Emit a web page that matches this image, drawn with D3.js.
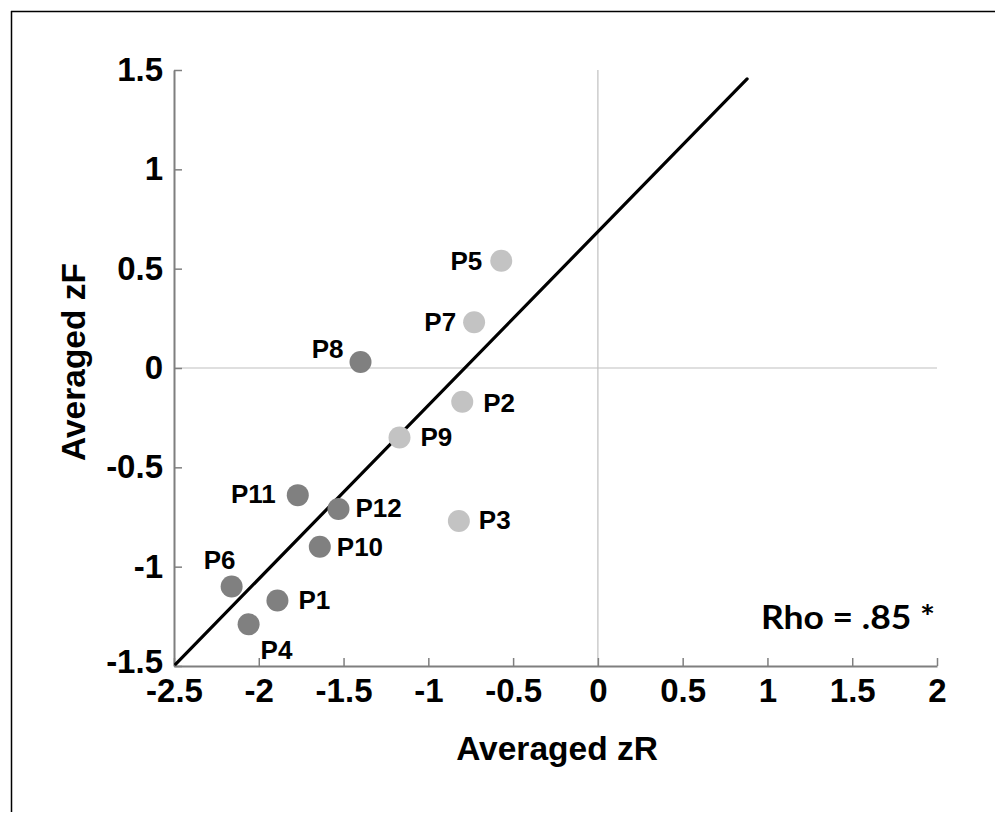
<!DOCTYPE html>
<html>
<head>
<meta charset="utf-8">
<script src="https://cdn.jsdelivr.net/npm/d3@7"></script>
<style>
  body { margin: 0; background: #fff; }
  svg text { font-family: "Liberation Sans", Arial, sans-serif; font-weight: bold; fill: #000; }
</style>
</head>
<body>
<svg id="chart" width="995" height="814"></svg>
<script>
/*
Data
*/
var labels = ["P1", "P2", "P3", "P4", "P5", "P6", "P7", "P8", "P9", "P10", "P11", "P12"];
var zR = [-1.89, -0.80, -0.82, -2.06, -0.57, -2.16, -0.73, -1.40, -1.17, -1.64, -1.77, -1.53];
var zF = [-1.17, -0.17, -0.77, -1.29, 0.54, -1.10, 0.23, 0.03, -0.35, -0.90, -0.64, -0.71];
var group = ["dark", "light", "light", "dark", "light", "dark", "light", "dark", "light", "dark", "dark", "dark"];
var xTicks = [-2.5, -2, -1.5, -1, -0.5, 0, 0.5, 1, 1.5, 2];
var yTicks = [-1.5, -1, -0.5, 0, 0.5, 1, 1.5];
var fitX = [-2.49, 0.88];
var fitY = [-1.49, 1.455];

/*
Layout helpers
*/
var colors = { dark: "#808080", light: "#c3c3c3" };
// where each label sits relative to its dot: [dx, dy, anchor]
var labelPos = {
  P1: [21, 9, "start"], P2: [21, 10, "start"], P3: [20, 8, "start"],
  P4: [12, 35, "start"], P5: [-19, 9, "end"], P6: [-12, -18, "middle"],
  P7: [-18, 9, "end"], P8: [-17, -4, "end"], P9: [21, 8, "start"],
  P10: [17, 9, "start"], P11: [-22, 8, "end"], P12: [17, 8, "start"]
};

var svg = d3.select("#chart");

// frame lines (top and left only)
svg.append("line").attr("x1", 11).attr("y1", 11.5).attr("x2", 995).attr("y2", 11.5)
   .style("stroke", "#000").style("stroke-width", 1.5);
svg.append("line").attr("x1", 11.5).attr("y1", 11).attr("x2", 11.5).attr("y2", 812)
   .style("stroke", "#000").style("stroke-width", 1.5);

var x = d3.scaleLinear().domain([-2.5, 2]).range([174, 937]);
var y = d3.scaleLinear().domain([-1.5, 1.5]).range([666, 70]);

// zero reference lines
svg.append("line").attr("x1", x(0)).attr("x2", x(0)).attr("y1", y(-1.5)).attr("y2", y(1.5))
   .style("stroke", "#c0c0c0").style("stroke-width", 1.2);
svg.append("line").attr("x1", x(-2.5)).attr("x2", x(2)).attr("y1", y(0)).attr("y2", y(0))
   .style("stroke", "#c0c0c0").style("stroke-width", 1.2);

var xAxis = svg.append("g")
  .attr("transform", "translate(0," + y(-1.5) + ")")
  .call(d3.axisBottom(x).tickValues(xTicks).tickFormat(function(d){ return String(d); })
          .tickSizeInner(-8).tickSizeOuter(0).tickPadding(13));

var yAxis = svg.append("g")
  .attr("transform", "translate(" + x(-2.5) + ",0)")
  .call(d3.axisLeft(y).tickValues(yTicks).tickFormat(function(d){ return String(d); })
          .tickSizeInner(-8).tickSizeOuter(0).tickPadding(11));

[xAxis, yAxis].forEach(function(a){
  a.select(".domain").style("stroke", "#7f7f7f").style("stroke-width", 2);
  a.selectAll(".tick line").style("stroke", "#7f7f7f").style("stroke-width", 1.5);
  a.selectAll(".tick text").style("font-size", "33px").style("font-family", "Liberation Sans, Arial, sans-serif")
   .style("font-weight", "bold").style("fill", "#000");
});
// bottom y label sits a little higher than its tick in the original
yAxis.selectAll(".tick text").filter(function(d){ return d === -1.5; }).attr("y", -4);

// regression line
svg.append("line")
   .attr("x1", x(fitX[0])).attr("y1", y(fitY[0]))
   .attr("x2", x(fitX[1])).attr("y2", y(fitY[1]))
   .style("stroke", "#000").style("stroke-width", 3.2).style("stroke-linecap", "round");

var pts = svg.selectAll(".pt")
  .data(labels)
  .enter()
  .append("g")
  .attr("class", "pt")
  .attr("transform", function(d, i){ return "translate(" + x(zR[i]) + "," + y(zF[i]) + ")"; });

pts.append("circle")
   .attr("r", 11)
   .style("fill", function(d, i){ return colors[group[i]]; });

pts.append("text")
   .attr("x", function(d){ return labelPos[d][0]; })
   .attr("y", function(d){ return labelPos[d][1]; })
   .attr("text-anchor", function(d){ return labelPos[d][2]; })
   .style("font-size", "26px")
   .text(function(d){ return d; });

// axis titles
svg.append("text")
   .attr("x", 557).attr("y", 760)
   .attr("text-anchor", "middle")
   .style("font-size", "33.5px")
   .text("Averaged zR");

svg.append("text")
   .attr("transform", "translate(85,362) rotate(-90)")
   .attr("text-anchor", "middle")
   .style("font-size", "33.5px")
   .text("Averaged zF");

svg.append("text")
   .attr("x", 935).attr("y", 629)
   .attr("text-anchor", "end")
   .attr("textLength", 174)
   .attr("lengthAdjust", "spacingAndGlyphs")
   .style("font-family", "Lato, 'Open Sans', sans-serif")
   .style("font-size", "32px")
   .text("Rho = .85 *");
</script>
</body>
</html>
